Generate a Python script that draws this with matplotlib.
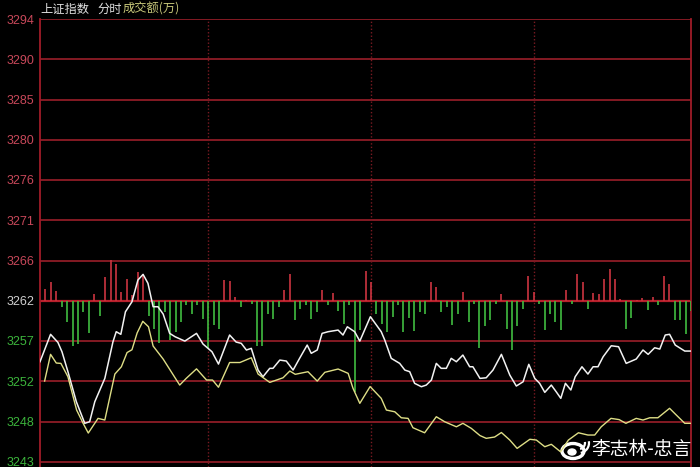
import numpy as np
import matplotlib.pyplot as plt
from matplotlib.patches import Ellipse, Arc

plt.rcParams['font.family'] = ['Noto Sans CJK SC', 'DejaVu Sans']

# price axis: preclose and grid step
base = 3261.7
step = 4.64
tick_labels = ['3243', '3248', '3252', '3257', '3262', '3266', '3271',
               '3276', '3280', '3285', '3290', '3294']

# index line (white), minute / price
white_min = [0, 3.9, 6.6, 8.1, 10.3, 13.4, 16.5, 18.3, 20.2, 23.9,
             26.9, 28.1, 29.8, 31.5, 33.9, 36.1, 38.0, 39.8, 41.7, 43.5,
             45.4, 47.8, 49.8, 53.4, 57.7, 60.1, 63.4, 65.8, 69.9, 72.3,
             74.2, 76.1, 77.9, 80.4, 82.2, 84.7, 85.9, 88.4, 90.8, 93.3,
             95.7, 98.5, 100.0, 102.2, 104.0, 106.2, 109.9, 111.7, 113.3, 116.0,
             117.9, 121.8, 125.8, 127.1, 129.5, 132.6, 134.5, 136.3, 138.1, 140.6,
             142.4, 144.3, 146.1, 147.9, 149.8, 151.6, 153.5, 155.9, 158.4, 159.6,
             162.2, 164.5, 167.0, 170.1, 173.2, 175.6, 178.1, 180.2, 182.4, 184.2,
             186.1, 188.5, 190.3, 192.0, 193.7, 195.7, 197.3, 199.8, 202.0, 203.9,
             205.7, 207.6, 210.6, 213.3, 216.1, 219.8, 222.3, 224.2, 226.6, 228.5,
             230.5, 232.1, 234.2, 237.7, 239.9]
white_px = [3254.67, 3257.83, 3256.90, 3255.82, 3253.52, 3250.06, 3247.57, 3247.75, 3250.06, 3252.75,
            3256.97, 3258.13, 3257.83, 3260.43, 3261.58, 3264.09, 3264.74, 3263.71, 3261.01, 3261.01,
            3260.17, 3257.94, 3257.55, 3257.05, 3257.94, 3256.71, 3255.82, 3254.40, 3257.75, 3256.94,
            3256.79, 3256.02, 3256.21, 3253.71, 3252.94, 3253.91, 3253.91, 3254.86, 3254.75, 3253.71,
            3255.06, 3256.59, 3255.64, 3256.02, 3257.94, 3258.13, 3258.32, 3257.75, 3258.70, 3258.13,
            3257.05, 3259.86, 3258.13, 3257.17, 3255.06, 3254.48, 3253.71, 3253.52, 3252.18, 3251.79,
            3251.98, 3252.56, 3254.48, 3253.91, 3253.91, 3255.06, 3254.67, 3255.44, 3254.09, 3254.09,
            3252.75, 3252.82, 3253.71, 3255.52, 3253.13, 3251.87, 3252.36, 3254.37, 3252.75, 3252.18,
            3251.14, 3251.98, 3251.21, 3250.45, 3252.18, 3251.41, 3252.94, 3254.09, 3253.25, 3254.09,
            3254.09, 3255.24, 3256.51, 3256.40, 3254.48, 3254.98, 3256.02, 3255.52, 3256.28, 3256.13,
            3257.75, 3257.83, 3256.59, 3255.90, 3255.90]

# unweighted line (yellow)
yellow_min = [1.7, 3.9, 6.0, 7.7, 10.3, 13.5, 15.9, 17.8, 21.4, 23.9,
              27.6, 30.0, 32.1, 33.9, 35.8, 37.9, 40.0, 41.7, 45.4, 51.5,
              53.9, 57.7, 61.4, 63.6, 65.8, 69.9, 73.7, 77.9, 80.4, 84.7,
              89.6, 92.1, 94.1, 98.8, 102.2, 105.0, 109.9, 113.6, 115.4, 117.9,
              121.7, 125.8, 127.7, 130.8, 133.2, 135.7, 137.5, 141.8, 146.1, 149.2,
              153.5, 155.9, 159.0, 162.2, 164.5, 167.6, 170.1, 173.2, 175.9, 180.6,
              183.0, 186.1, 188.5, 191.9, 194.8, 198.5, 202.0, 204.5, 206.9, 210.5,
              213.5, 216.0, 219.8, 222.3, 224.8, 227.8, 232.1, 234.6, 237.7, 239.9]
yellow_px = [3252.44, 3255.52, 3254.52, 3254.48, 3252.94, 3249.10, 3247.57, 3246.45, 3248.14, 3247.95,
             3253.25, 3254.09, 3255.73, 3256.05, 3257.98, 3259.33, 3258.70, 3256.48, 3254.98, 3251.98,
             3252.75, 3253.85, 3252.56, 3252.56, 3251.73, 3254.58, 3254.58, 3255.13, 3253.25, 3252.29,
             3252.82, 3253.60, 3253.22, 3253.52, 3252.44, 3253.45, 3253.83, 3253.33, 3251.60, 3249.87,
             3251.81, 3250.45, 3249.10, 3248.90, 3248.21, 3248.14, 3247.06, 3246.48, 3248.33, 3247.75,
             3247.17, 3247.57, 3246.99, 3246.16, 3245.84, 3245.99, 3246.51, 3245.64, 3244.68, 3245.73,
             3245.64, 3244.87, 3245.15, 3244.29, 3245.64, 3246.48, 3246.22, 3246.22, 3247.17, 3248.14,
             3248.00, 3247.57, 3248.14, 3247.95, 3248.21, 3248.21, 3249.30, 3248.52, 3247.57, 3247.57]

# buy/sell strength bars every 2 minutes (arbitrary units, + red / - green)
bars = [12, 19, 10, -6, -21, -45, -43, -11, -32, 7,
        -15, 24, 41, 37, 9, 22, 6, 29, 27, -15,
        -28, -42, -11, -39, -31, -21, -4, -13, -4, -18,
        -47, -24, -28, 21, 20, 4, -6, 1, -3, -45,
        -45, -13, -18, -6, 11, 27, -19, -8, -4, -18,
        -11, 11, -4, 8, -10, -23, -4, -91, -29, 30,
        19, -13, -23, -31, -16, -4, -31, -17, -30, -11,
        -13, 19, 14, -11, -6, -24, -13, 9, -21, -3,
        -47, -25, -19, -3, 7, -28, -49, -25, -8, 25,
        9, -3, -29, -13, -21, -29, 11, -3, 27, 19,
        -8, 8, 7, 22, 32, 22, 2, -28, -17, 1,
        3, -9, 4, -4, 25, 17, -19, -19, -33, -10]
bar_min = np.arange(1, len(bars) + 1) * 2
hour_marks = [62, 122, 182]

W, H = 700, 467
fig = plt.figure(figsize=(7, 4.67), dpi=100, facecolor='black')
ax = fig.add_axes([40 / W, 0, 651 / W, 448 / H], facecolor='black')

top = base + 7 * step
per_px = step / 40.25
bottom = top - 448 * per_px
ax.set_xlim(0, 240)
ax.set_ylim(bottom, top)

grid_red = '#8e1c26'
ticks = [base + k * step for k in range(-4, 8)]
for t in ticks:
    lw = 1.6 if abs(t - base) < 0.01 else 1.3
    c = '#b8202c' if abs(t - base) < 0.01 else grid_red
    ax.axhline(t, color=c, lw=lw, zorder=1)
for m in hour_marks:
    ax.axvline(m, color='#7a1a22', lw=1, ls=(0, (1, 1.5)), zorder=1)

# bars on a twin axis, zero at the preclose line
ax2 = ax.twinx()
ax2.set_ylim((bottom - base) / per_px, (top - base) / per_px)
bars = np.array(bars)
up = bars > 0
ax2.vlines(bar_min[up], 0, bars[up], color='#cc3440', lw=1.2, zorder=2)
ax2.vlines(bar_min[~up], 0, bars[~up], color='#40bc40', lw=1.2, zorder=2)
ax2.set_yticks([])
ax2.set_zorder(ax.get_zorder() + 1)
ax2.patch.set_visible(False)

ax3 = ax2.twinx()
ax3.set_ylim(bottom, top)
ax3.set_yticks([])
ax3.plot(white_min, white_px, color='#f2f2f2', lw=1.1, zorder=3)
ax3.plot(yellow_min, yellow_px, color='#dede86', lw=1.0, zorder=3)

ax.set_yticks(ticks)
ax.set_yticklabels(tick_labels, fontsize=9, family='Liberation Sans')
for lab, t in zip(ax.get_yticklabels(), ticks):
    if t > base + 0.01:
        lab.set_color('#c8485a')
    elif t < base - 0.01:
        lab.set_color('#3cb43c')
    else:
        lab.set_color('#d0d0d0')
ax.tick_params(axis='y', length=0, pad=4)
ax.set_xticks([])
for a in (ax, ax2, ax3):
    for s in a.spines.values():
        s.set_visible(False)
ax.spines['left'].set_visible(True)
ax.spines['left'].set_color('#a01c28')
ax.spines['right'].set_visible(True)
ax.spines['right'].set_color('#a01c28')
ax.spines['left'].set_linewidth(1.3)
ax.spines['right'].set_linewidth(1.3)

# header
fig.text(40 / W, 1 - 9 / H, '上证指数', color='#e0e0e0', fontsize=8.8, va='center')
fig.text(97 / W, 1 - 9 / H, '分时', color='#e0e0e0', fontsize=8.8, va='center')
fig.text(123 / W, 1 - 9 / H, '成交额(万)', color='#c8c87a', fontsize=8.8, va='center')

# watermark
ov = fig.add_axes([0, 0, 1, 1])
ov.set_xlim(0, W)
ov.set_ylim(H, 0)
ov.axis('off')
ov.add_patch(Ellipse((573, 451), 22, 15, fill=False, ec='white', lw=2.4))
ov.add_patch(Ellipse((572, 452), 8, 6, fill=True, fc='white', ec='white', lw=1))
ov.add_patch(Arc((579, 443), 12, 12, theta1=-10, theta2=80, ec='white', lw=1.6))
ov.add_patch(Arc((579, 443), 20, 20, theta1=-10, theta2=80, ec='white', lw=1.6))
ov.text(591, 450, '李志林-忠言', color='white', fontsize=13.5, va='center', ha='left')

fig.savefig('out.png', dpi=100, facecolor='black')
